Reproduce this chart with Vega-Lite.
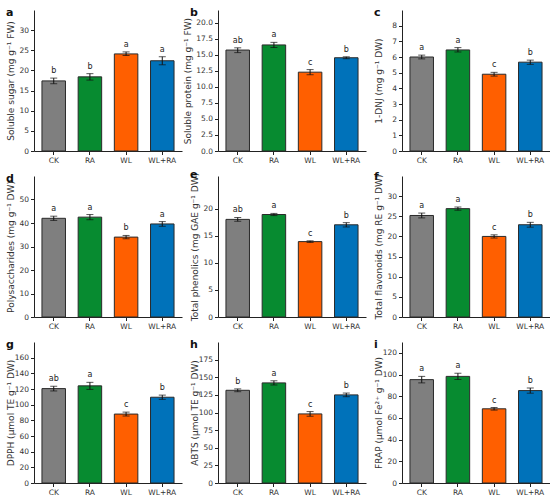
{
  "$schema": "https://vega.github.io/schema/vega-lite/v6.json",
  "background": "white",
  "padding": {"left": 5, "top": 7, "right": 0, "bottom": 0},
  "columns": 3,
  "spacing": {"row": 25, "column": 36},
  "bounds": "flush",
  "datasets": {
    "a": [
      {"treatment": "CK", "value": 17.4, "lo": 16.7, "hi": 18.1, "letter": "b"},
      {"treatment": "RA", "value": 18.4, "lo": 17.6, "hi": 19.2, "letter": "b"},
      {"treatment": "WL", "value": 24.1, "lo": 23.7, "hi": 24.6, "letter": "a"},
      {"treatment": "WL+RA", "value": 22.4, "lo": 21.4, "hi": 23.4, "letter": "a"}
    ],
    "b": [
      {"treatment": "CK", "value": 15.75, "lo": 15.35, "hi": 16.1, "letter": "ab"},
      {"treatment": "RA", "value": 16.55, "lo": 16.15, "hi": 16.95, "letter": "a"},
      {"treatment": "WL", "value": 12.3, "lo": 11.9, "hi": 12.7, "letter": "c"},
      {"treatment": "WL+RA", "value": 14.55, "lo": 14.4, "hi": 14.7, "letter": "b"}
    ],
    "c": [
      {"treatment": "CK", "value": 6.0, "lo": 5.88, "hi": 6.12, "letter": "a"},
      {"treatment": "RA", "value": 6.45, "lo": 6.32, "hi": 6.6, "letter": "a"},
      {"treatment": "WL", "value": 4.9, "lo": 4.78, "hi": 5.02, "letter": "c"},
      {"treatment": "WL+RA", "value": 5.67, "lo": 5.53, "hi": 5.8, "letter": "b"}
    ],
    "d": [
      {"treatment": "CK", "value": 42.0, "lo": 41.1, "hi": 42.9, "letter": "a"},
      {"treatment": "RA", "value": 42.5, "lo": 41.4, "hi": 43.6, "letter": "a"},
      {"treatment": "WL", "value": 34.0, "lo": 33.3, "hi": 34.7, "letter": "b"},
      {"treatment": "WL+RA", "value": 39.6, "lo": 38.6, "hi": 40.6, "letter": "a"}
    ],
    "e": [
      {"treatment": "CK", "value": 18.0, "lo": 17.65, "hi": 18.35, "letter": "ab"},
      {"treatment": "RA", "value": 18.9, "lo": 18.7, "hi": 19.1, "letter": "a"},
      {"treatment": "WL", "value": 13.9, "lo": 13.75, "hi": 14.05, "letter": "c"},
      {"treatment": "WL+RA", "value": 17.0, "lo": 16.6, "hi": 17.4, "letter": "b"}
    ],
    "f": [
      {"treatment": "CK", "value": 25.2, "lo": 24.6, "hi": 25.8, "letter": "a"},
      {"treatment": "RA", "value": 26.9, "lo": 26.5, "hi": 27.3, "letter": "a"},
      {"treatment": "WL", "value": 20.0, "lo": 19.6, "hi": 20.4, "letter": "c"},
      {"treatment": "WL+RA", "value": 22.9, "lo": 22.3, "hi": 23.5, "letter": "b"}
    ],
    "g": [
      {"treatment": "CK", "value": 120.5, "lo": 117.5, "hi": 123.5, "letter": "ab"},
      {"treatment": "RA", "value": 124.0, "lo": 119.5, "hi": 128.5, "letter": "a"},
      {"treatment": "WL", "value": 88.0, "lo": 85.5, "hi": 90.5, "letter": "c"},
      {"treatment": "WL+RA", "value": 109.5, "lo": 106.8, "hi": 112.2, "letter": "b"}
    ],
    "h": [
      {"treatment": "CK", "value": 131.5, "lo": 129.5, "hi": 133.5, "letter": "b"},
      {"treatment": "RA", "value": 142.0, "lo": 139.0, "hi": 145.0, "letter": "a"},
      {"treatment": "WL", "value": 98.0, "lo": 94.7, "hi": 101.3, "letter": "c"},
      {"treatment": "WL+RA", "value": 125.0, "lo": 122.4, "hi": 127.6, "letter": "b"}
    ],
    "i": [
      {"treatment": "CK", "value": 95.3, "lo": 92.3, "hi": 98.3, "letter": "a"},
      {"treatment": "RA", "value": 98.3, "lo": 95.4, "hi": 101.2, "letter": "a"},
      {"treatment": "WL", "value": 68.4, "lo": 67.2, "hi": 69.6, "letter": "c"},
      {"treatment": "WL+RA", "value": 85.2, "lo": 82.8, "hi": 87.6, "letter": "b"}
    ]
  },
  "concat": [
    {
      "title": "a",
      "width": 148, "height": 141,
      "data": {"name": "a"},
      "encoding": {"x": {"field": "treatment", "type": "nominal", "title": null, "scale": {"paddingInner": 0.35, "paddingOuter": 0.22}}},
      "layer": [
        {"mark": {"type": "bar", "stroke": "#2a2a2a", "strokeWidth": 1},
         "encoding": {"y": {"field": "value", "type": "quantitative", "title": "Soluble sugar (mg g⁻¹ FW)", "scale": {"domain": [0, 31.1]}, "axis": {"values": [0, 5, 10, 15, 20, 25, 30], "tickCount": 30, "format": "d"}},
                      "color": {"field": "treatment", "type": "nominal", "legend": null}}},
        {"mark": {"type": "rule", "color": "#111", "strokeWidth": 1}, "encoding": {"y": {"field": "lo", "type": "quantitative"}, "y2": {"field": "hi"}}},
        {"mark": {"type": "tick", "color": "#111", "size": 7, "thickness": 1}, "encoding": {"y": {"field": "lo", "type": "quantitative"}}},
        {"mark": {"type": "tick", "color": "#111", "size": 7, "thickness": 1}, "encoding": {"y": {"field": "hi", "type": "quantitative"}}},
        {"mark": {"type": "text", "baseline": "bottom", "dy": -3}, "encoding": {"y": {"field": "hi", "type": "quantitative"}, "text": {"field": "letter"}}}
      ]
    },
    {
      "title": "b",
      "width": 148, "height": 141,
      "data": {"name": "b"},
      "encoding": {"x": {"field": "treatment", "type": "nominal", "title": null, "scale": {"paddingInner": 0.35, "paddingOuter": 0.22}}},
      "layer": [
        {"mark": {"type": "bar", "stroke": "#2a2a2a", "strokeWidth": 1},
         "encoding": {"y": {"field": "value", "type": "quantitative", "title": "Soluble protein (mg g⁻¹ FW)", "scale": {"domain": [0, 21.3]}, "axis": {"values": [0, 2.5, 5, 7.5, 10, 12.5, 15, 17.5, 20], "tickCount": 30, "format": ".1f", "minExtent": 23, "maxExtent": 23}},
                      "color": {"field": "treatment", "type": "nominal", "legend": null}}},
        {"mark": {"type": "rule", "color": "#111", "strokeWidth": 1}, "encoding": {"y": {"field": "lo", "type": "quantitative"}, "y2": {"field": "hi"}}},
        {"mark": {"type": "tick", "color": "#111", "size": 7, "thickness": 1}, "encoding": {"y": {"field": "lo", "type": "quantitative"}}},
        {"mark": {"type": "tick", "color": "#111", "size": 7, "thickness": 1}, "encoding": {"y": {"field": "hi", "type": "quantitative"}}},
        {"mark": {"type": "text", "baseline": "bottom", "dy": -3}, "encoding": {"y": {"field": "hi", "type": "quantitative"}, "text": {"field": "letter"}}}
      ]
    },
    {
      "title": "c",
      "width": 148, "height": 141,
      "data": {"name": "c"},
      "encoding": {"x": {"field": "treatment", "type": "nominal", "title": null, "scale": {"paddingInner": 0.35, "paddingOuter": 0.22}}},
      "layer": [
        {"mark": {"type": "bar", "stroke": "#2a2a2a", "strokeWidth": 1},
         "encoding": {"y": {"field": "value", "type": "quantitative", "title": "1-DNJ (mg g⁻¹ DW)", "scale": {"domain": [0, 8.43]}, "axis": {"values": [0, 1, 2, 3, 4, 5, 6, 7, 8], "tickCount": 30, "format": "d"}},
                      "color": {"field": "treatment", "type": "nominal", "legend": null}}},
        {"mark": {"type": "rule", "color": "#111", "strokeWidth": 1}, "encoding": {"y": {"field": "lo", "type": "quantitative"}, "y2": {"field": "hi"}}},
        {"mark": {"type": "tick", "color": "#111", "size": 7, "thickness": 1}, "encoding": {"y": {"field": "lo", "type": "quantitative"}}},
        {"mark": {"type": "tick", "color": "#111", "size": 7, "thickness": 1}, "encoding": {"y": {"field": "hi", "type": "quantitative"}}},
        {"mark": {"type": "text", "baseline": "bottom", "dy": -3}, "encoding": {"y": {"field": "hi", "type": "quantitative"}, "text": {"field": "letter"}}}
      ]
    },
    {
      "title": "d",
      "width": 148, "height": 141,
      "data": {"name": "d"},
      "encoding": {"x": {"field": "treatment", "type": "nominal", "title": null, "scale": {"paddingInner": 0.35, "paddingOuter": 0.22}}},
      "layer": [
        {"mark": {"type": "bar", "stroke": "#2a2a2a", "strokeWidth": 1},
         "encoding": {"y": {"field": "value", "type": "quantitative", "title": "Polysaccharides (mg g⁻¹ DW)", "scale": {"domain": [0, 55.5]}, "axis": {"values": [0, 10, 20, 30, 40, 50], "tickCount": 30, "format": "d"}},
                      "color": {"field": "treatment", "type": "nominal", "legend": null}}},
        {"mark": {"type": "rule", "color": "#111", "strokeWidth": 1}, "encoding": {"y": {"field": "lo", "type": "quantitative"}, "y2": {"field": "hi"}}},
        {"mark": {"type": "tick", "color": "#111", "size": 7, "thickness": 1}, "encoding": {"y": {"field": "lo", "type": "quantitative"}}},
        {"mark": {"type": "tick", "color": "#111", "size": 7, "thickness": 1}, "encoding": {"y": {"field": "hi", "type": "quantitative"}}},
        {"mark": {"type": "text", "baseline": "bottom", "dy": -3}, "encoding": {"y": {"field": "hi", "type": "quantitative"}, "text": {"field": "letter"}}}
      ]
    },
    {
      "title": "e",
      "width": 148, "height": 141,
      "data": {"name": "e"},
      "encoding": {"x": {"field": "treatment", "type": "nominal", "title": null, "scale": {"paddingInner": 0.35, "paddingOuter": 0.22}}},
      "layer": [
        {"mark": {"type": "bar", "stroke": "#2a2a2a", "strokeWidth": 1},
         "encoding": {"y": {"field": "value", "type": "quantitative", "title": "Total phenolics (mg GAE g⁻¹ DW)", "scale": {"domain": [0, 24.5]}, "axis": {"values": [0, 5, 10, 15, 20], "tickCount": 30, "format": "d"}},
                      "color": {"field": "treatment", "type": "nominal", "legend": null}}},
        {"mark": {"type": "rule", "color": "#111", "strokeWidth": 1}, "encoding": {"y": {"field": "lo", "type": "quantitative"}, "y2": {"field": "hi"}}},
        {"mark": {"type": "tick", "color": "#111", "size": 7, "thickness": 1}, "encoding": {"y": {"field": "lo", "type": "quantitative"}}},
        {"mark": {"type": "tick", "color": "#111", "size": 7, "thickness": 1}, "encoding": {"y": {"field": "hi", "type": "quantitative"}}},
        {"mark": {"type": "text", "baseline": "bottom", "dy": -3}, "encoding": {"y": {"field": "hi", "type": "quantitative"}, "text": {"field": "letter"}}}
      ]
    },
    {
      "title": "f",
      "width": 148, "height": 141,
      "data": {"name": "f"},
      "encoding": {"x": {"field": "treatment", "type": "nominal", "title": null, "scale": {"paddingInner": 0.35, "paddingOuter": 0.22}}},
      "layer": [
        {"mark": {"type": "bar", "stroke": "#2a2a2a", "strokeWidth": 1},
         "encoding": {"y": {"field": "value", "type": "quantitative", "title": "Total flavonoids (mg RE g⁻¹ DW)", "scale": {"domain": [0, 34.9]}, "axis": {"values": [0, 5, 10, 15, 20, 25, 30], "tickCount": 30, "format": "d"}},
                      "color": {"field": "treatment", "type": "nominal", "legend": null}}},
        {"mark": {"type": "rule", "color": "#111", "strokeWidth": 1}, "encoding": {"y": {"field": "lo", "type": "quantitative"}, "y2": {"field": "hi"}}},
        {"mark": {"type": "tick", "color": "#111", "size": 7, "thickness": 1}, "encoding": {"y": {"field": "lo", "type": "quantitative"}}},
        {"mark": {"type": "tick", "color": "#111", "size": 7, "thickness": 1}, "encoding": {"y": {"field": "hi", "type": "quantitative"}}},
        {"mark": {"type": "text", "baseline": "bottom", "dy": -3}, "encoding": {"y": {"field": "hi", "type": "quantitative"}, "text": {"field": "letter"}}}
      ]
    },
    {
      "title": "g",
      "width": 148, "height": 141,
      "data": {"name": "g"},
      "encoding": {"x": {"field": "treatment", "type": "nominal", "title": null, "scale": {"paddingInner": 0.35, "paddingOuter": 0.22}}},
      "layer": [
        {"mark": {"type": "bar", "stroke": "#2a2a2a", "strokeWidth": 1},
         "encoding": {"y": {"field": "value", "type": "quantitative", "title": "DPPH (μmol TE g⁻¹ DW)", "scale": {"domain": [0, 163.8]}, "axis": {"values": [0, 20, 40, 60, 80, 100, 120, 140, 160], "tickCount": 30, "format": "d"}},
                      "color": {"field": "treatment", "type": "nominal", "legend": null}}},
        {"mark": {"type": "rule", "color": "#111", "strokeWidth": 1}, "encoding": {"y": {"field": "lo", "type": "quantitative"}, "y2": {"field": "hi"}}},
        {"mark": {"type": "tick", "color": "#111", "size": 7, "thickness": 1}, "encoding": {"y": {"field": "lo", "type": "quantitative"}}},
        {"mark": {"type": "tick", "color": "#111", "size": 7, "thickness": 1}, "encoding": {"y": {"field": "hi", "type": "quantitative"}}},
        {"mark": {"type": "text", "baseline": "bottom", "dy": -3}, "encoding": {"y": {"field": "hi", "type": "quantitative"}, "text": {"field": "letter"}}}
      ]
    },
    {
      "title": "h",
      "width": 148, "height": 141,
      "data": {"name": "h"},
      "encoding": {"x": {"field": "treatment", "type": "nominal", "title": null, "scale": {"paddingInner": 0.35, "paddingOuter": 0.22}}},
      "layer": [
        {"mark": {"type": "bar", "stroke": "#2a2a2a", "strokeWidth": 1},
         "encoding": {"y": {"field": "value", "type": "quantitative", "title": "ABTS (μmol TE g⁻¹ DW)", "scale": {"domain": [0, 184.8]}, "axis": {"values": [0, 25, 50, 75, 100, 125, 150, 175], "tickCount": 30, "format": "d"}},
                      "color": {"field": "treatment", "type": "nominal", "legend": null}}},
        {"mark": {"type": "rule", "color": "#111", "strokeWidth": 1}, "encoding": {"y": {"field": "lo", "type": "quantitative"}, "y2": {"field": "hi"}}},
        {"mark": {"type": "tick", "color": "#111", "size": 7, "thickness": 1}, "encoding": {"y": {"field": "lo", "type": "quantitative"}}},
        {"mark": {"type": "tick", "color": "#111", "size": 7, "thickness": 1}, "encoding": {"y": {"field": "hi", "type": "quantitative"}}},
        {"mark": {"type": "text", "baseline": "bottom", "dy": -3}, "encoding": {"y": {"field": "hi", "type": "quantitative"}, "text": {"field": "letter"}}}
      ]
    },
    {
      "title": "i",
      "width": 148, "height": 141,
      "data": {"name": "i"},
      "encoding": {"x": {"field": "treatment", "type": "nominal", "title": null, "scale": {"paddingInner": 0.35, "paddingOuter": 0.22}}},
      "layer": [
        {"mark": {"type": "bar", "stroke": "#2a2a2a", "strokeWidth": 1},
         "encoding": {"y": {"field": "value", "type": "quantitative", "title": "FRAP (μmol Fe²⁺ g⁻¹ DW)", "scale": {"domain": [0, 129]}, "axis": {"values": [0, 20, 40, 60, 80, 100, 120], "tickCount": 30, "format": "d"}},
                      "color": {"field": "treatment", "type": "nominal", "legend": null}}},
        {"mark": {"type": "rule", "color": "#111", "strokeWidth": 1}, "encoding": {"y": {"field": "lo", "type": "quantitative"}, "y2": {"field": "hi"}}},
        {"mark": {"type": "tick", "color": "#111", "size": 7, "thickness": 1}, "encoding": {"y": {"field": "lo", "type": "quantitative"}}},
        {"mark": {"type": "tick", "color": "#111", "size": 7, "thickness": 1}, "encoding": {"y": {"field": "hi", "type": "quantitative"}}},
        {"mark": {"type": "text", "baseline": "bottom", "dy": -3}, "encoding": {"y": {"field": "hi", "type": "quantitative"}, "text": {"field": "letter"}}}
      ]
    }
  ],
  "config": {
    "view": {"stroke": null},
    "font": "DejaVu Sans",
    "range": {"category": ["#7f7f7f", "#078b30", "#ff5f00", "#0072ba"]},
    "title": {"anchor": "start", "frame": "group", "fontSize": 11, "fontWeight": "bold", "font": "DejaVu Sans", "color": "#111", "dx": -28, "offset": -8},
    "text": {"font": "DejaVu Sans", "fontSize": 8, "color": "#222"},
    "axis": {
      "grid": false,
      "domainColor": "#222",
      "tickColor": "#222",
      "tickSize": 3.5,
      "labelColor": "#333",
      "labelFont": "DejaVu Sans",
      "labelFontSize": 7.5,
      "labelPadding": 2,
      "labelOverlap": false,
      "titleFont": "DejaVu Sans",
      "titleFontSize": 9,
      "titleFontWeight": "normal",
      "titleColor": "#333"
    },
    "axisX": {"labelAngle": 0},
    "axisY": {"minExtent": 16, "maxExtent": 16, "titlePadding": 3}
  }
}
